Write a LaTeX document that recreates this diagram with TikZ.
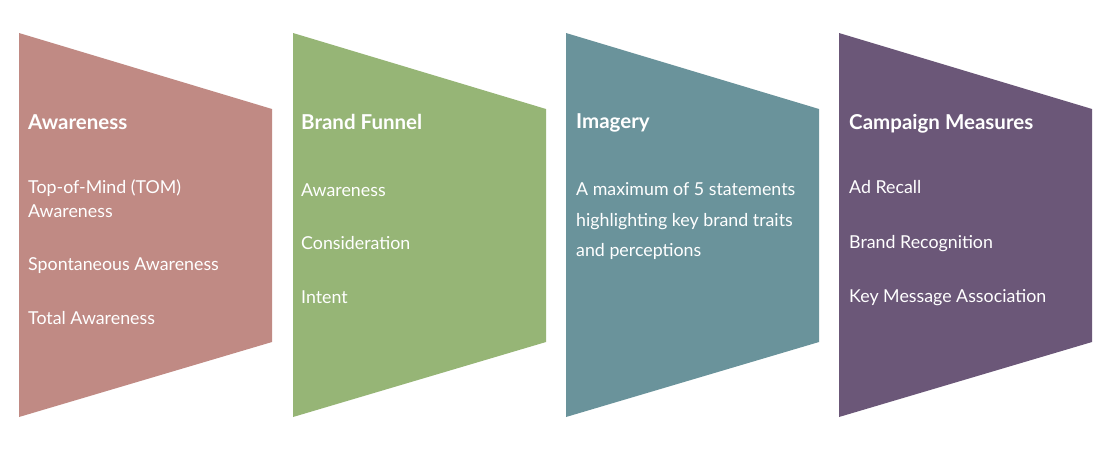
\documentclass[tikz,border=0pt]{standalone}
\usepackage{fontspec}
\setmainfont{Lato}
\definecolor{cRose}{HTML}{C08A84}
\definecolor{cGreen}{HTML}{96B576}
\definecolor{cTeal}{HTML}{6A939B}
\definecolor{cPurple}{HTML}{6B5778}
\begin{document}
\begin{tikzpicture}[x=1pt,y=-1pt,
  ttl/.style={anchor=base west,inner sep=0pt,text=white,font=\fontsize{20.5}{24}\selectfont\bfseries},
  itm/.style={anchor=base west,inner sep=0pt,text=white,font=\fontsize{17.8}{24}\selectfont,align=left},
]
\useasboundingbox[fill=white] (0,0) rectangle (1110,451);
\newcommand{\funnelshape}[2]{%
  \fill[#2] (#1,33) -- (#1+253,109) -- (#1+253,342) -- (#1,417) -- cycle;}
\funnelshape{19}{cRose}
\funnelshape{293}{cGreen}
\funnelshape{566}{cTeal}
\funnelshape{839}{cPurple}
% column 1
\node[ttl] (t1) at (28,129) {Awareness};
\node[itm] (a1) at (28,193) {Top-of-Mind (TOM)};
\node[itm] (a2) at (28,217) {Awareness};
\node[itm] (a3) at (28,270) {Spontaneous Awareness};
\node[itm] (a4) at (28,324) {Total Awareness};
% column 2
\node[ttl] (t2) at (301,129) {Brand Funnel};
\node[itm] (b1) at (301,196) {Awareness};
\node[itm] (b2) at (301,249) {Consideration};
\node[itm] (b3) at (301,303) {Intent};
% column 3
\node[ttl] (t3) at (576,128) {Imagery};
\node[itm] (c1) at (576,195) {A maximum of 5 statements};
\node[itm] (c2) at (576,226) {highlighting key brand traits};
\node[itm] (c3) at (576,256) {and perceptions};
% column 4
\node[ttl] (t4) at (849,129) {Campaign Measures};
\node[itm] (d1) at (849,193) {Ad Recall};
\node[itm] (d2) at (849,248) {Brand Recognition};
\node[itm] (d3) at (849,302) {Key Message Association};
\end{tikzpicture}
\end{document}
